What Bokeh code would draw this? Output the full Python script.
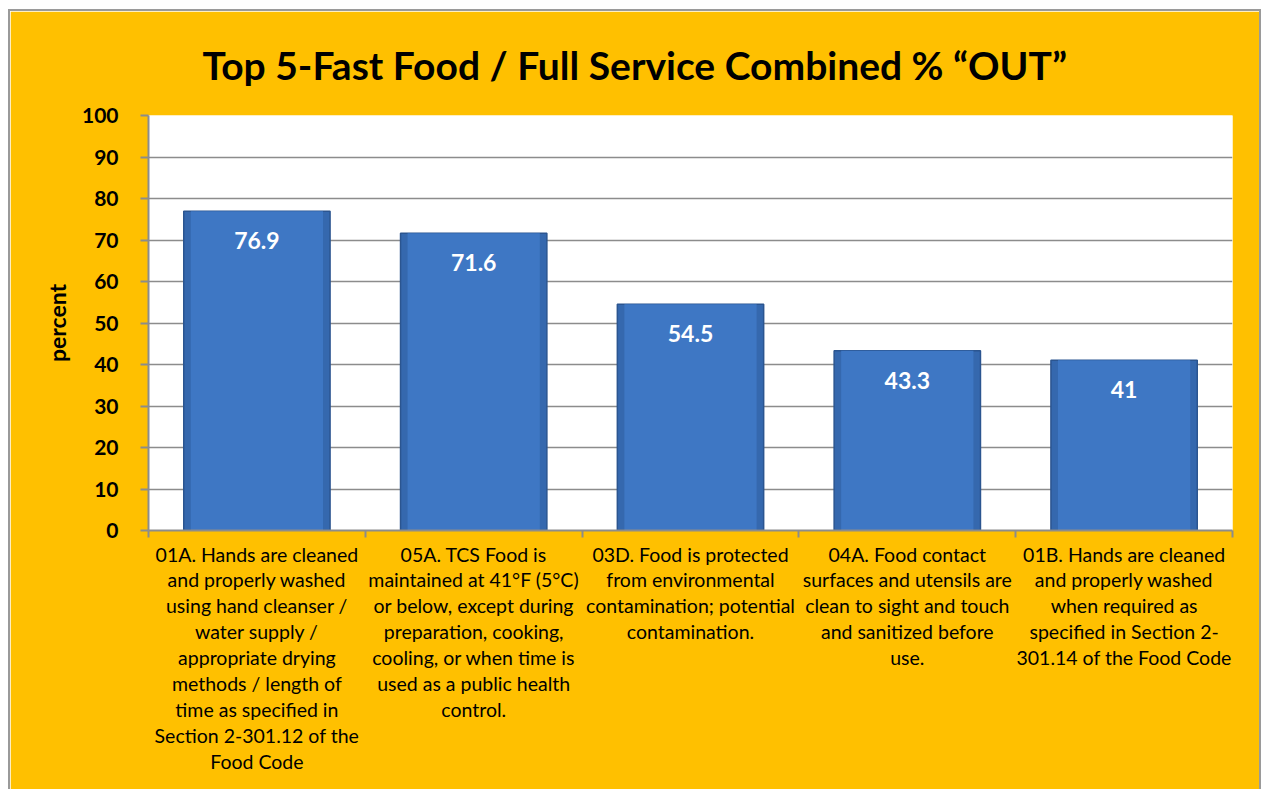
from bokeh.plotting import figure
from bokeh.models import Range1d, FixedTicker, ColumnDataSource, LabelSet
from bokeh.core.properties import value
from bokeh.embed import file_html
from bokeh.resources import INLINE

categories = [
    "01A. Hands are cleaned\nand properly washed\nusing hand cleanser /\nwater supply /\nappropriate drying\nmethods / length of\ntime as specified in\nSection 2-301.12 of the\nFood Code",
    "05A. TCS Food is\nmaintained at 41°F (5°C)\nor below, except during\npreparation, cooking,\ncooling, or when time is\nused as a public health\ncontrol.",
    "03D. Food is protected\nfrom environmental\ncontamination; potential\ncontamination.",
    "04A. Food contact\nsurfaces and utensils are\nclean to sight and touch\nand sanitized before\nuse.",
    "01B. Hands are cleaned\nand properly washed\nwhen required as\nspecified in Section 2-\n301.14 of the Food Code",
]
values = [76.9, 71.6, 54.5, 43.3, 41]
value_labels = ["76.9", "71.6", "54.5", "43.3", "41"]
y_ticks = [0, 10, 20, 30, 40, 50, 60, 70, 80, 90, 100]

GOLD = "#FFC000"
FONT = "Lato"

xs = [i + 0.5 for i in range(len(categories))]
src = ColumnDataSource(dict(x=xs, top=values, label=value_labels))

p = figure(width=1253, height=785, output_backend="svg", toolbar_location=None,
           x_range=Range1d(0, len(categories)), y_range=Range1d(0, 100),
           min_border_left=138, min_border_right=31, min_border_top=104,
           min_border_bottom=266)
p.margin = (9, 0, 0, 8)
p.styles = {"border": "2px solid #9a9a9a", "box-sizing": "border-box"}

p.background_fill_color = "white"
p.border_fill_color = GOLD
p.outline_line_color = None

p.title.text = "Top 5-Fast Food / Full Service Combined % \u201cOUT\u201d"
p.title.align = "left"
p.title.text_font = FONT
p.title.text_font_size = "39px"
p.title.text_font_style = "bold"
p.title.text_color = "black"
p.title.offset = 54
p.title.standoff = 56

# bars with a bevel-like look
p.vbar(x="x", top="top", width=0.675, bottom=0, source=src,
       fill_color="#3568AE", line_color="#2B5590", line_width=1.5)
p.vbar(x="x", top="top", width=0.61, bottom=0, source=src,
       fill_color="#3E77C4", line_color=None)

labels = LabelSet(x="x", y="top", text="label", source=src, y_offset=-38,
                  text_align="center", text_color="white", text_font=value(FONT),
                  text_font_size="23px", text_font_style="bold")
p.add_layout(labels)

# y axis
p.yaxis.ticker = FixedTicker(ticks=y_ticks)
p.yaxis.axis_label = "percent"
p.yaxis.axis_label_text_font = FONT
p.yaxis.axis_label_text_font_size = "23px"
p.yaxis.axis_label_text_font_style = "bold"
p.yaxis.axis_label_text_color = "black"
p.yaxis.axis_label_standoff = 8
p.yaxis.major_label_text_font = FONT
p.yaxis.major_label_text_font_size = "21px"
p.yaxis.major_label_text_font_style = "bold"
p.yaxis.major_label_text_color = "black"
p.yaxis.major_label_standoff = 22
p.yaxis.axis_line_color = "#8c8c8c"
p.yaxis.axis_line_width = 2
p.yaxis.major_tick_line_color = "#8c8c8c"
p.yaxis.major_tick_line_width = 2
p.yaxis.major_tick_in = 0
p.yaxis.major_tick_out = 8
p.yaxis.minor_tick_line_color = None

# x axis: labels at bar centres, ticks at category boundaries
p.xaxis.ticker = FixedTicker(ticks=xs, minor_ticks=list(range(len(categories) + 1)))
p.xaxis.major_label_overrides = {x: c for x, c in zip(xs, categories)}
p.xaxis.major_label_text_font = FONT
p.xaxis.major_label_text_font_size = "19.5px"
p.xaxis.major_label_text_color = "black"
p.xaxis.major_label_text_line_height = 1.13
p.xaxis.major_label_text_align = "center"
p.xaxis.major_label_standoff = 5
p.xaxis.axis_line_color = "#8c8c8c"
p.xaxis.axis_line_width = 2
p.xaxis.major_tick_line_color = None
p.xaxis.major_tick_out = 0
p.xaxis.major_tick_in = 0
p.xaxis.minor_tick_line_color = "#8c8c8c"
p.xaxis.minor_tick_line_width = 2
p.xaxis.minor_tick_out = 7
p.xaxis.minor_tick_in = 0

p.xgrid.grid_line_color = None
p.ygrid.ticker = FixedTicker(ticks=y_ticks)
p.ygrid.grid_line_color = "#8c8c8c"
p.ygrid.grid_line_width = 1.5

open("out.html", "w").write(file_html(p, INLINE))
